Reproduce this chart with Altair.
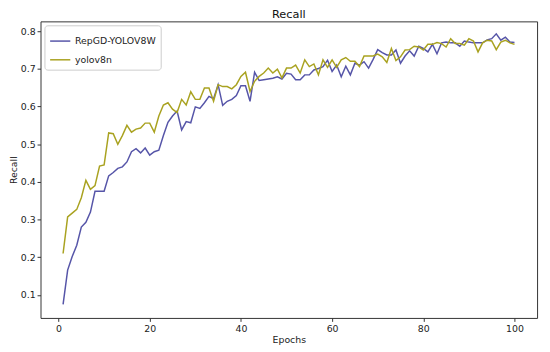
import altair as alt
import pandas as pd

epochs = list(range(1, 101))
series_names = ["RepGD-YOLOV8W", "yolov8n"]

repgd = [0.075, 0.166, 0.202, 0.232, 0.28, 0.293, 0.32, 0.375, 0.375, 0.375,
         0.416, 0.425, 0.436, 0.44, 0.453, 0.48, 0.488, 0.477, 0.49, 0.471,
         0.48, 0.484, 0.523, 0.558, 0.575, 0.588, 0.538, 0.56, 0.557, 0.599,
         0.595, 0.61, 0.627, 0.621, 0.658, 0.603, 0.614, 0.619, 0.629, 0.655,
         0.655, 0.614, 0.691, 0.669, 0.671, 0.673, 0.675, 0.679, 0.673, 0.688,
         0.686, 0.671, 0.671, 0.684, 0.684, 0.697, 0.701, 0.706, 0.723, 0.693,
         0.71, 0.679, 0.707, 0.684, 0.715, 0.71, 0.719, 0.702, 0.725, 0.751,
         0.743, 0.737, 0.737, 0.75, 0.715, 0.734, 0.748, 0.734, 0.76, 0.754,
         0.745, 0.765, 0.74, 0.769, 0.771, 0.769, 0.769, 0.76, 0.774, 0.771,
         0.769, 0.769, 0.769, 0.777, 0.78, 0.793, 0.776, 0.784, 0.771, 0.77]

yolov8n = [0.21, 0.307, 0.317, 0.327, 0.358, 0.404, 0.38, 0.39, 0.442, 0.445,
           0.53, 0.528, 0.50, 0.523, 0.55, 0.532, 0.54, 0.543, 0.556, 0.556,
           0.532, 0.575, 0.604, 0.61, 0.593, 0.584, 0.619, 0.604, 0.639, 0.619,
           0.619, 0.649, 0.649, 0.614, 0.658, 0.653, 0.653, 0.647, 0.658, 0.68,
           0.691, 0.64, 0.667, 0.68, 0.689, 0.702, 0.689, 0.699, 0.676, 0.702,
           0.702, 0.71, 0.689, 0.724, 0.706, 0.713, 0.684, 0.724, 0.704, 0.724,
           0.704, 0.724, 0.73, 0.72, 0.72, 0.706, 0.734, 0.734, 0.734, 0.739,
           0.732, 0.717, 0.754, 0.722, 0.732, 0.75, 0.751, 0.76, 0.758, 0.75,
           0.765, 0.765, 0.77, 0.767, 0.758, 0.78, 0.767, 0.767, 0.763, 0.78,
           0.774, 0.745, 0.769, 0.776, 0.774, 0.751, 0.771, 0.776, 0.769, 0.765]

x_ticks = [0, 20, 40, 60, 80, 100]
y_ticks = [0.1, 0.2, 0.3, 0.4, 0.5, 0.6, 0.7, 0.8]

rows = []
for name, vals in zip(series_names, [repgd, yolov8n]):
    for e, v in zip(epochs, vals):
        rows.append({"Epoch": e, "Recall": v, "Model": name})
df = pd.DataFrame(rows)

FONT = "DejaVu Sans"

chart = alt.Chart(df).mark_line(strokeWidth=1.5).encode(
    x=alt.X("Epoch:Q",
            scale=alt.Scale(domain=[-3.95, 104.95], nice=False, zero=False),
            axis=alt.Axis(title="Epochs", values=x_ticks, grid=False,
                          tickSize=3.5, labelPadding=2, titlePadding=2,
                          labelFontSize=9.5, titleFontSize=9.5,
                          titleFontWeight="normal", domain=False,
                          tickColor="#333", labelColor="#222", titleColor="#222")),
    y=alt.Y("Recall:Q",
            scale=alt.Scale(domain=[0.039, 0.826], nice=False, zero=False),
            axis=alt.Axis(title="Recall", values=y_ticks, grid=False, format=".1f",
                          tickSize=3.5, labelPadding=2, titlePadding=2,
                          labelFontSize=9.5, titleFontSize=9.5,
                          titleFontWeight="normal", domain=False,
                          tickColor="#333", labelColor="#222", titleColor="#222")),
    color=alt.Color("Model:N",
                    scale=alt.Scale(domain=series_names, range=["#5655a8", "#a9a220"]),
                    legend=alt.Legend(title=None, orient="top-left", offset=4,
                                      fillColor="white", strokeColor="#cccccc",
                                      padding=5, cornerRadius=3,
                                      symbolType="stroke", symbolSize=420,
                                      symbolStrokeWidth=1.5, labelFontSize=9.5,
                                      labelColor="#222", rowPadding=3)),
).properties(
    width=504,
    height=301,
    title=alt.TitleParams("Recall", fontSize=11.5, fontWeight="normal", font=FONT,
                          color="#111", offset=1),
    autosize=alt.AutoSizeParams(type="none"),
    padding={"left": 33, "top": 11, "right": 5, "bottom": 32},
).configure(font=FONT).configure_view(stroke="#333", strokeWidth=1)

chart.save("out.html", embed_options={"renderer": "svg", "actions": False})
